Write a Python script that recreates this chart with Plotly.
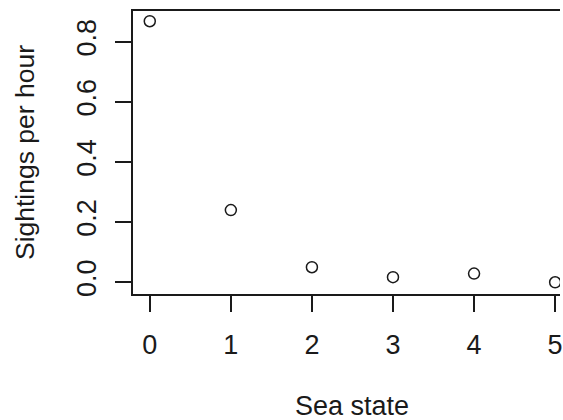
import plotly.graph_objects as go

# Sea state vs. sightings rate
sea_state = [0, 1, 2, 3, 4, 5]
sightings_per_hour = [0.868, 0.240, 0.050, 0.017, 0.029, 0.0]
x_ticks = [0, 1, 2, 3, 4, 5]
y_ticks = [0.0, 0.2, 0.4, 0.6, 0.8]
y_tick_text = ["0.0", "0.2", "0.4", "0.6", "0.8"]

FONT = "Liberation Sans"
INK = "#1a1a1a"
FS = 27

fig = go.Figure(
    go.Scatter(
        x=sea_state,
        y=sightings_per_hour,
        mode="markers",
        marker=dict(symbol="circle-open", size=11, color=INK, line=dict(width=1.5, color=INK)),
        showlegend=False,
    )
)

fig.update_layout(
    width=563,
    height=420,
    margin=dict(l=133, r=0, t=11, b=126),
    paper_bgcolor="white",
    plot_bgcolor="white",
    font=dict(family=FONT, size=FS, color=INK),
    xaxis=dict(
        range=[-0.207, 5.06],
        tickmode="array",
        tickvals=x_ticks,
        ticks="outside",
        ticklen=16,
        tickwidth=2,
        tickcolor=INK,
        showline=True,
        linewidth=2,
        linecolor=INK,
        mirror=True,
        showgrid=False,
        zeroline=False,
        ticklabelstandoff=10,
        ticklabeloverflow="allow",
    ),
    yaxis=dict(
        range=[-0.039, 0.902],
        tickmode="array",
        tickvals=y_ticks,
        ticktext=y_tick_text,
        tickangle=-90,
        ticks="outside",
        ticklen=16,
        tickwidth=2,
        tickcolor=INK,
        showline=True,
        linewidth=2,
        linecolor=INK,
        showgrid=False,
        zeroline=False,
        ticklabelstandoff=8,
        title=dict(
            text="Sightings per hour",
            standoff=30,
            font=dict(family=FONT, size=26.5, color=INK),
        ),
    ),
    annotations=[
        dict(
            text="Sea state",
            xref="x",
            x=2.5,
            yref="paper",
            y=-0.335,
            yanchor="top",
            showarrow=False,
            font=dict(family=FONT, size=FS, color=INK),
        )
    ],
)

fig.write_html("out.html")
